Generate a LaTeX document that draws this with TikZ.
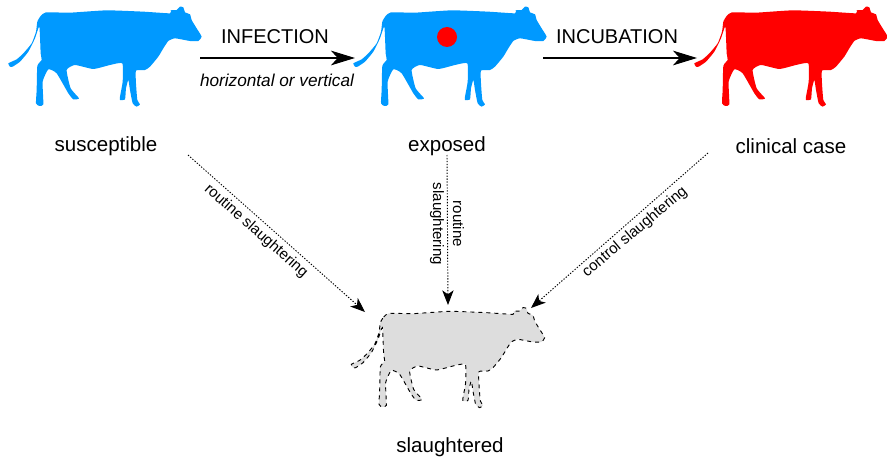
\documentclass[tikz,border=0pt]{standalone}
\usepackage{fontspec}
\setmainfont{Liberation Sans}
\usetikzlibrary{arrows.meta}
\definecolor{cowblue}{HTML}{0099FF}
\definecolor{cowgrey}{HTML}{DDDDDD}
% outline of the cow, traced once and reused for all four
\newcommand{\cowoutline}{plot[smooth cycle, tension=0.3] coordinates {
 (112,65) (122,48) (138,37) (210,38) (320,31) (430,35) (510,40) (512,31) (530,30) (540,20) (550,22) (555,37) (570,43) (575,60)
 (590,85) (605,110) (595,123) (570,123) (525,115) (505,123) (490,145) (475,170) (450,200) (435,210) (408,212) (408,250)
 (412,300) (420,313) (410,320) (398,310) (390,270) (385,240) (378,265) (375,298) (360,300) (360,290) (368,245)
 (367,190) (330,195) (280,207) (225,195) (200,210) (212,265) (237,295) (220,298) (205,280) (170,220)
 (145,208) (128,245) (130,313) (118,318) (108,310) (110,270) (112,198) (125,180) (122,160) (118,80)
 (105,115) (85,155) (60,185) (38,200) (30,200) (25,190) (50,178) (70,160) (95,130) (108,95)}}
\begin{document}
\begin{tikzpicture}[
    x=0.75pt, y=-0.75pt,
    statelabel/.style={font=\fontsize{15.4}{18}\selectfont, inner sep=0pt},
    steplabel/.style={font=\fontsize{15}{18}\selectfont, inner sep=0pt},
    routelabel/.style={font=\fontsize{11.3}{15}\selectfont, inner sep=0pt, align=center},
    steparrow/.style={-{Stealth[length=18pt, width=11pt, inset=5pt]}, line width=1.1pt},
    routearrow/.style={-{Stealth[length=11pt, width=8.5pt, inset=3pt]}, dash pattern=on 1pt off 1.2pt, line width=0.7pt}
]
\useasboundingbox (0,0) rectangle (887,456);

\fill[cowblue, scale=0.3333] \cowoutline;
\fill[cowblue, shift={(345,0)}, scale=0.3333] \cowoutline;
\fill[red, shift={(686,0)}, scale=0.3333] \cowoutline;
\draw[fill=cowgrey, dashed, line width=0.7pt, shift={(343,301)}, scale=0.3333] \cowoutline;

\node[circle, fill=red, minimum size=15pt, inner sep=0pt] (infected) at (447,37) {};

\node[statelabel] (susceptible) at (106,146) {susceptible};
\node[statelabel] (exposed) at (447,146) {exposed};
\node[statelabel] (clinical) at (791,146) {clinical case};
\node[statelabel] (slaughtered) at (450,447) {slaughtered};

\node[steplabel] (infection) at (275,37) {INFECTION};
\node[font=\fontsize{12.9}{15}\selectfont\itshape, inner sep=0pt] (route) at (277,80) {horizontal or vertical};
\node[steplabel] (incubation) at (617,37) {INCUBATION};

\coordinate (infA) at (200,58);
\coordinate (infB) at (355,58);
\coordinate (incA) at (543,58);
\coordinate (incB) at (697,58);
\draw[steparrow] (infA) -- (infB);
\draw[steparrow] (incA) -- (incB);

\coordinate (routeA) at (188,155);
\coordinate (routeB) at (447,155);
\coordinate (routeC) at (708,153);
\coordinate (deadA) at (365,312);
\coordinate (deadB) at (448,305);
\coordinate (deadC) at (531,308);
\draw[routearrow] (routeA) -- (deadA);
\draw[routearrow] (routeB) -- (deadB);
\draw[routearrow] (routeC) -- (deadC);

\node[routelabel, rotate=-41.4] (routineA) at (256,231) {routine slaughtering};
\node[routelabel, rotate=-90] (routineB) at (447,224) {routine\\slaughtering};
\node[routelabel, rotate=40] (control) at (635,232) {control slaughtering};
\end{tikzpicture}
\end{document}
